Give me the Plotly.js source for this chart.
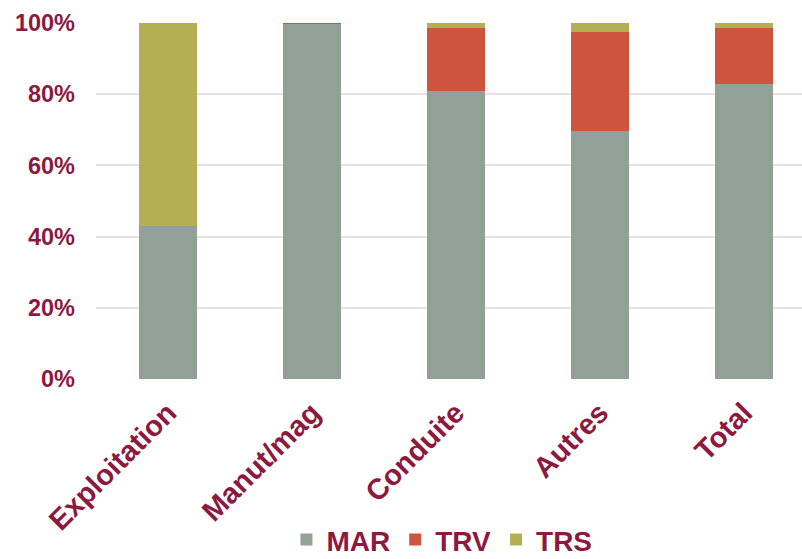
<!DOCTYPE html>
<html>
<head>
<meta charset="utf-8">
<script src="https://cdn.plot.ly/plotly-3.0.1.min.js"></script>
<style>html,body{margin:0;padding:0;background:#fff;}#chart{width:802px;height:559px;}</style>
</head>
<body>
<div id="chart"></div>
<script>
var categories = ["Exploitation", "Manut/mag", "Conduite", "Autres", "Total"];
var marValues = [0.43, 0.996, 0.81, 0.697, 0.829];
var trvValues = [0.0, 0.004, 0.177, 0.279, 0.158];
var trsValues = [0.57, 0.0, 0.013, 0.024, 0.013];
var yTickValues = [0, 0.2, 0.4, 0.6, 0.8, 1.0];
var yTickLabels = ["0%", "20%", "40%", "60%", "80%", "100%"];

var textColor = "#8C1A40";
var font = "'Liberation Sans', Arial, sans-serif";

var traces = [
  {type: "bar", name: "MAR", x: categories, y: marValues, marker: {color: "#92A196", line: {width: 0}}},
  {type: "bar", name: "TRV", x: categories, y: trvValues, marker: {color: "#CF5440", line: {width: 0}}},
  {type: "bar", name: "TRS", x: categories, y: trsValues, marker: {color: "#B5AF54", line: {width: 0}}}
];

var layout = {
  width: 802, height: 559,
  margin: {l: 96, r: 0, t: 23, b: 180, pad: 0, autoexpand: false},
  barmode: "stack",
  bargap: 0.597,
  paper_bgcolor: "#ffffff",
  plot_bgcolor: "#ffffff",
  showlegend: true,
  legend: {
    orientation: "h", x: 0.49, xanchor: "center", y: -0.452, yanchor: "middle",
    font: {family: font, size: 28, color: textColor, weight: "bold"},
    itemwidth: 30, traceorder: "normal"
  },
  xaxis: {
    type: "category",
    range: [-0.5, 4.403],
    tickangle: -45,
    automargin: false,
    tickfont: {family: font, size: 29, color: textColor, weight: "bold"},
    showgrid: false, zeroline: false, showline: false, ticks: "",
    ticklabelstandoff: 10
  },
  yaxis: {
    range: [0, 1],
    automargin: false,
    tickvals: yTickValues,
    ticktext: yTickLabels,
    tickfont: {family: font, size: 23.5, color: textColor, weight: "bold"},
    showgrid: true, gridcolor: "#E6DFEA", gridwidth: 2,
    zeroline: false, showline: false, ticks: "",
    ticklabelstandoff: 20
  }
};

Plotly.newPlot("chart", traces, layout, {displayModeBar: false, staticPlot: true});
</script>
</body>
</html>
